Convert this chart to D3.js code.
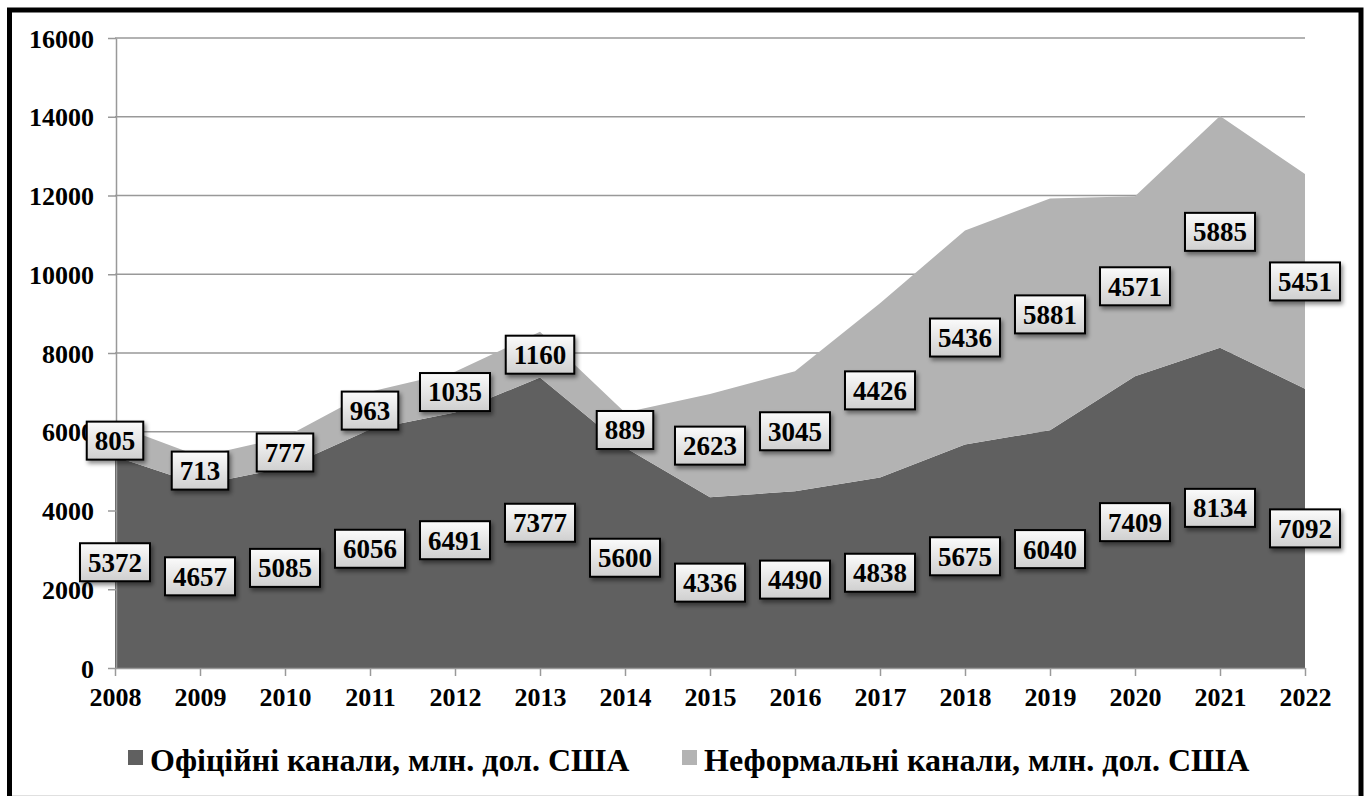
<!DOCTYPE html>
<html>
<head>
<meta charset="utf-8">
<script src="https://cdn.jsdelivr.net/npm/d3@7"></script>
<style>
  body { margin: 0; background: #fff; }
  svg { display: block; }
  svg text { font-family: "Liberation Serif", "Times New Roman", Times, serif; font-weight: bold; }
</style>
</head>
<body>
<svg id="chart" width="1368" height="796"></svg>
<script>
// data
const years = ["2008","2009","2010","2011","2012","2013","2014","2015","2016","2017","2018","2019","2020","2021","2022"];
const official = [5372, 4657, 5085, 6056, 6491, 7377, 5600, 4336, 4490, 4838, 5675, 6040, 7409, 8134, 7092];
const informal = [805, 713, 777, 963, 1035, 1160, 889, 2623, 3045, 4426, 5436, 5881, 4571, 5885, 5451];
const yTicks = [0, 2000, 4000, 6000, 8000, 10000, 12000, 14000, 16000];
const seriesNames = ["Офіційні канали, млн. дол. США", "Неформальні канали, млн. дол. США"];
const colors = ["#606060", "#b3b3b3"];

const svg = d3.select("#chart");

// outer frame
svg.append("path")
  .attr("d", "M9.5,796 V10 H1361 V796")
  .attr("fill", "none")
  .attr("stroke", "#000")
  .attr("stroke-width", 5);
svg.append("line")
  .attr("x1", 12).attr("x2", 1358).attr("y1", 795.5).attr("y2", 795.5)
  .attr("stroke", "#e0e0e0");

const x = d3.scalePoint().domain(years).range([115, 1305]);
const y = d3.scaleLinear().domain([0, 16000]).range([668, 38]);

// gridlines
svg.append("g")
  .selectAll("line")
  .data(yTicks.slice(1))
  .enter().append("line")
  .attr("x1", 115).attr("x2", 1305)
  .attr("y1", d => y(d)).attr("y2", d => y(d))
  .attr("stroke", "#999").attr("stroke-width", 1.5);

// stacked areas
const rows = years.map((yr, i) => ({ year: yr, off: official[i], inf: informal[i] }));
const stack = d3.stack().keys(["off", "inf"]);
const series = stack(rows);

const area = d3.area()
  .x(d => x(d.data.year))
  .y0(d => y(d[0]))
  .y1(d => y(d[1]));

svg.append("g")
  .selectAll("path")
  .data(series)
  .enter().append("path")
  .attr("d", area)
  .attr("fill", (d, i) => colors[i]);

// axes
const yAxis = svg.append("g")
  .attr("transform", "translate(116,0)")
  .call(d3.axisLeft(y).tickValues(yTicks).tickSize(8).tickSizeOuter(0).tickPadding(14).tickFormat(d3.format("d")));
const xAxis = svg.append("g")
  .attr("transform", "translate(0,668)")
  .call(d3.axisBottom(x).tickSize(8).tickSizeOuter(0).tickPadding(12));

[yAxis, xAxis].forEach(ax => {
  ax.attr("font-family", null).attr("font-size", null);
  ax.select(".domain").attr("stroke", "#999").attr("stroke-width", 1.5);
  ax.selectAll(".tick line").attr("stroke", "#999").attr("stroke-width", 1.5);
  ax.selectAll("text")
    .attr("fill", "#000")
    .style("font-size", "26px");
});
yAxis.selectAll("text").attr("dy", "0.35em");
xAxis.selectAll("text").attr("dy", "0.71em");

// shadow + gradient for label boxes
const defs = svg.append("defs");
const grad = defs.append("linearGradient")
  .attr("id", "boxGrad").attr("x1", 0).attr("y1", 0).attr("x2", 0).attr("y2", 1);
grad.append("stop").attr("offset", "0%").attr("stop-color", "#fbfbfb");
grad.append("stop").attr("offset", "100%").attr("stop-color", "#cfcfcf");
const filt = defs.append("filter").attr("id", "shadow")
  .attr("x", "-20%").attr("y", "-20%").attr("width", "150%").attr("height", "160%");
filt.append("feDropShadow")
  .attr("dx", 2).attr("dy", 3).attr("stdDeviation", 2)
  .attr("flood-color", "#000").attr("flood-opacity", 0.45);

// data labels at the middle of each band
const labels = svg.append("g");
series.forEach(s => {
  s.forEach(d => {
    const val = d[1] - d[0];
    const cx = x(d.data.year);
    const cy = y((d[0] + d[1]) / 2);
    const g = labels.append("g").attr("transform", `translate(${cx},${cy})`);
    const rect = g.append("rect");
    const t = g.append("text")
      .attr("text-anchor", "middle")
      .attr("dy", "0.35em")
      .style("font-size", "27px")
      .attr("fill", "#000")
      .text(val);
    const w = t.node().getComputedTextLength() + 16;
    const h = 38;
    rect.attr("x", -w / 2).attr("y", -h / 2)
      .attr("width", w).attr("height", h)
      .attr("fill", "url(#boxGrad)")
      .attr("stroke", "#000").attr("stroke-width", 2)
      .attr("filter", "url(#shadow)");
  });
});

// legend
const legendX = [128, 682];
const legend = svg.append("g");
seriesNames.forEach((name, i) => {
  legend.append("rect")
    .attr("x", legendX[i]).attr("y", 750)
    .attr("width", 15).attr("height", 15)
    .attr("fill", colors[i]);
  legend.append("text")
    .attr("x", legendX[i] + 22).attr("y", 771)
    .style("font-size", "32px")
    .attr("fill", "#000")
    .text(name);
});
</script>
</body>
</html>
